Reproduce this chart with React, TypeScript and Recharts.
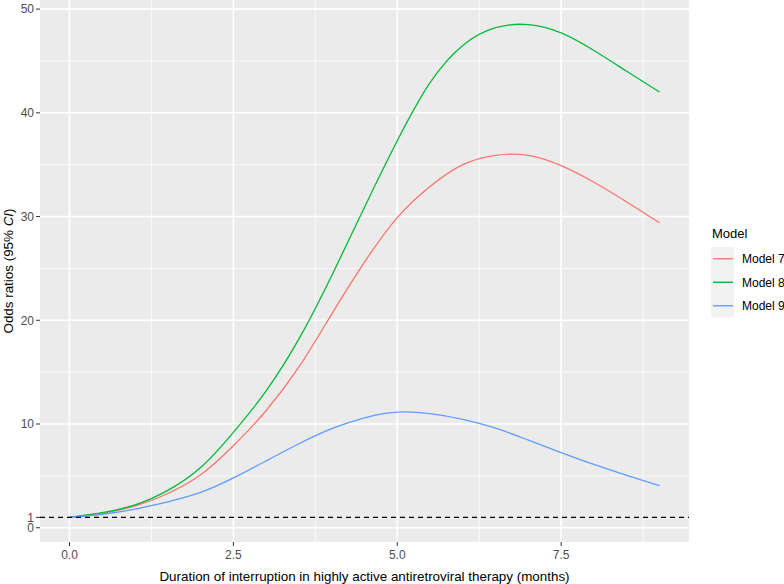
import React from "react";
import { LineChart, Line, XAxis, YAxis, CartesianGrid, ReferenceLine } from "recharts";

// months since interruption
const MONTHS = [0, 0.5, 1, 1.5, 2, 2.5, 3, 3.5, 4, 4.5, 5, 5.5, 6, 6.5, 7, 7.5, 8, 8.5, 9];

// odds ratios
const MODEL_7 = [1.0, 1.4, 2.1, 3.3, 5.1, 7.9, 11.3, 15.5, 20.6, 25.6, 29.9, 32.9, 35.0, 35.9, 35.9, 34.9, 33.3, 31.4, 29.4];
const MODEL_8 = [1.0, 1.45, 2.2, 3.6, 5.8, 9.2, 13.2, 18.2, 24.3, 30.9, 37.3, 42.9, 46.5, 48.2, 48.5, 47.7, 46.0, 44.0, 42.0];
const MODEL_9 = [1.0, 1.3, 1.8, 2.5, 3.4, 4.8, 6.45, 8.1, 9.55, 10.6, 11.15, 11.0, 10.45, 9.6, 8.45, 7.25, 6.1, 5.05, 4.05];

const X_TICKS = [0, 2.5, 5, 7.5];
const X_MINOR = [1.25, 3.75, 6.25, 8.75];
const Y_TICKS = [0, 1, 10, 20, 30, 40, 50];
const Y_MAJOR = [0, 10, 20, 30, 40, 50];
const Y_MINOR = [5, 15, 25, 35, 45];

const SERIES = [
  { key: "m7", name: "Model 7", color: "#F8766D" },
  { key: "m8", name: "Model 8", color: "#00BA38" },
  { key: "m9", name: "Model 9", color: "#619CFF" },
];

const data = MONTHS.map((m, i) => ({ month: m, m7: MODEL_7[i], m8: MODEL_8[i], m9: MODEL_9[i] }));

const FONT = "'Liberation Sans', Arial, sans-serif";

function ModelLegend() {
  return (
    <svg width={80} height={100} style={{ position: "absolute", left: 704, top: 222 }}>
      <text x={8} y={16} fontSize={13} fontFamily={FONT} fill="#000">Model</text>
      {SERIES.map((s, i) => {
        const y = 25 + i * 23.5;
        return (
          <g key={s.key}>
            <rect x={7} y={y} width={23} height={23.5} fill="#F2F2F2" />
            <line x1={9} x2={29} y1={y + 11.75} y2={y + 11.75} stroke={s.color} strokeWidth={1.4} />
            <text x={38} y={y + 16} fontSize={12} fontFamily={FONT} fill="#000">{s.name}</text>
          </g>
        );
      })}
    </svg>
  );
}

export default function App() {
  return (
    <div style={{ position: "absolute", left: 0, top: 0, width: 784, height: 584, background: "#fff", fontFamily: FONT }}>
      <LineChart width={784} height={584} data={data} margin={{ top: 0, right: 95, bottom: 0, left: 0 }}>
        <CartesianGrid
          fill="#EBEBEB"
          stroke="#FFFFFF"
          strokeWidth={0.8}
          horizontalValues={Y_MINOR}
          verticalValues={X_MINOR}
        />
        <CartesianGrid
          fill="none"
          stroke="#FFFFFF"
          strokeWidth={1.6}
          horizontalValues={Y_MAJOR}
          verticalValues={X_TICKS}
        />
        <XAxis
          dataKey="month"
          type="number"
          domain={[-0.45, 9.45]}
          ticks={X_TICKS}
          tickFormatter={(v: number) => v.toFixed(1)}
          height={42}
          axisLine={false}
          tickSize={4}
          tickMargin={4}
          tickLine={{ stroke: "#333333" }}
          tick={{ fill: "#4D4D4D", fontSize: 12, fontFamily: FONT }}
          label={{
            content: (props: any) => {
              const vb = props.viewBox;
              return (
                <text x={vb.x + vb.width / 2} y={vb.y + vb.height - 3} textAnchor="middle" fontSize={13.4} fontFamily={FONT} fill="#000">
                  Duration of interruption in highly active antiretroviral therapy (months)
                </text>
              );
            },
          }}
        />
        <YAxis
          type="number"
          domain={[-1.375, 50.875]}
          ticks={Y_TICKS}
          width={40}
          axisLine={false}
          tickSize={4}
          tickMargin={2}
          tickLine={{ stroke: "#333333" }}
          tick={{ fill: "#4D4D4D", fontSize: 12, fontFamily: FONT }}
          interval={0}
          label={{
            content: (props: any) => {
              const vb = props.viewBox;
              const cx = 13;
              const cy = vb.y + vb.height / 2;
              return (
                <text x={cx} y={cy} textAnchor="middle" fontSize={13.4} fontFamily={FONT} fill="#000" transform={`rotate(-90, ${cx}, ${cy})`}>
                  Odds ratios (95% <tspan fontStyle="italic">CI</tspan>)
                </text>
              );
            },
          }}
        />
        {SERIES.map((s) => (
          <Line
            key={s.key}
            type="natural"
            dataKey={s.key}
            name={s.name}
            stroke={s.color}
            strokeWidth={1.3}
            dot={false}
            activeDot={false}
            isAnimationActive={false}
          />
        ))}
        <ReferenceLine y={1} stroke="#000" strokeWidth={1.2} strokeDasharray="5 4" />
      </LineChart>
      <ModelLegend />
    </div>
  );
}
